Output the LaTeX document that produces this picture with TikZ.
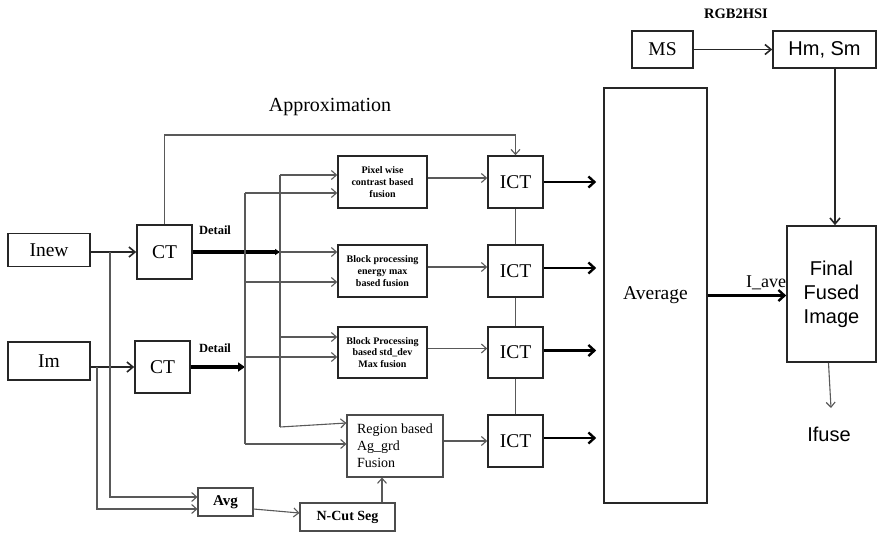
\documentclass[tikz,border=0pt]{standalone}
\usepackage{fontspec}
\setmainfont{Liberation Serif}
\setsansfont{Liberation Sans}
\usetikzlibrary{arrows.meta}
\newcommand\fz[2]{\fontsize{#1}{#2}\selectfont}
\begin{document}
\begin{tikzpicture}[x=1pt,y=-1pt,
  box/.style={draw=black!85, line width=1.6pt, inner sep=0pt, align=center, fill=white},
  lbox/.style={draw=black!70, line width=1.1pt, inner sep=0pt, align=center, fill=white},
  big/.style={font=\fz{19.5}{23}},
  fus/.style={font=\bfseries\fz{10}{11.7}},
  wire/.style={draw=black!65, line width=1.1pt},
  oarr/.style={-{Straight Barb[length=5pt,width=9pt]}},
  tarr/.style={draw=black, line width=2.4pt, -{Straight Barb[length=6pt,width=11pt]}},
  marr/.style={draw=black!85, line width=1.6pt, -{Straight Barb[length=6pt,width=10pt]}},
  det/.style={draw=black, line width=4pt, -{Triangle[length=7pt,width=9pt]}},
]
\useasboundingbox (0,0) rectangle (878,536);

% inputs and CT
\node[box,big,minimum width=82pt,minimum height=33pt] (inew) at (49,250) {Inew};
\node[box,big,minimum width=82pt,minimum height=38pt] (im) at (49,361) {Im};
\node[box,big,minimum width=55pt,minimum height=54pt] (ct1) at (164.5,252) {CT};
\node[box,big,minimum width=55pt,minimum height=52pt] (ct2) at (162.5,367) {CT};

% fusion boxes
\node[box,fus,minimum width=89pt,minimum height=52pt] (pix) at (382.5,182) {Pixel wise\\contrast based\\fusion};
\node[box,fus,minimum width=89pt,minimum height=52pt] (blk) at (382.5,271) {Block processing\\energy max\\based fusion};
\node[box,fus,minimum width=89pt,minimum height=51pt] (std) at (382.5,352.5) {Block Processing\\based std\_dev\\Max fusion};
\node[lbox,font=\fz{14}{17},align=left,minimum width=96pt,minimum height=62pt] (reg) at (395,446) {Region based\\Ag\_grd\\Fusion};
\node[lbox,font=\bfseries\fz{15}{18},minimum width=55pt,minimum height=28pt] (avg) at (225.5,502) {Avg};
\node[lbox,font=\bfseries\fz{14}{17},minimum width=95pt,minimum height=28pt] (ncut) at (347.5,517) {N-Cut Seg};

% ICT boxes
\node[box,big,minimum width=55pt,minimum height=52pt] (ict1) at (515.5,182) {ICT};
\node[box,big,minimum width=55pt,minimum height=52pt] (ict2) at (515.5,271) {ICT};
\node[box,big,minimum width=55pt,minimum height=51pt] (ict3) at (515.5,352.5) {ICT};
\node[box,big,minimum width=55pt,minimum height=52pt] (ict4) at (515.5,441) {ICT};

% right part
\node[box,big,minimum width=103pt,minimum height=415pt] (average) at (655.5,295.5) {Average};
\node[font=\fz{18}{21},anchor=south west,inner sep=0pt] (iave) at (746,290) {I\_ave};
\node[box,font=\sffamily\fz{20}{24},minimum width=89pt,minimum height=136pt] (final) at (831.5,294) {Final\\Fused\\Image};
\node[box,big,minimum width=61pt,minimum height=37pt] (ms) at (662.5,49.5) {MS};
\node[box,font=\sffamily\fz{20}{24},minimum width=103pt,minimum height=37pt] (hm) at (824.5,49.5) {Hm, Sm};
\node[font=\bfseries\fz{14.5}{17}] (rgb) at (736,14) {RGB2HSI};
\node[font=\sffamily\fz{20}{24}] (ifuse) at (829,434) {Ifuse};
\node[font=\fz{20}{24}] (approx) at (330,107) {Approximation};
\node[font=\bfseries\fz{12.5}{15}] (det1) at (215,230) {Detail};
\node[font=\bfseries\fz{12.5}{15}] (det2) at (215,348) {Detail};

% coordinates
\coordinate (j1) at (110,252);
\coordinate (j2) at (97,367);
\coordinate (apx) at (300,135);
\coordinate (a1) at (280,175);
\coordinate (a2) at (280,252);
\coordinate (a3) at (280,337);
\coordinate (a4) at (280,427);
\coordinate (b1) at (245,193);
\coordinate (b2) at (245,282);
\coordinate (b3) at (245,357);
\coordinate (b4) at (245,444);
\coordinate (b0) at (245,367);
\coordinate (ifa) at (831,408);

% input arrows
\draw[marr] (inew.east |- ct1.west) -- (ct1.west);
\draw[marr] (im.east |- ct2.west) -- (ct2.west);
\draw[wire,oarr] (j1) |- ([yshift=5]avg.west);
\draw[wire,oarr] (j2) |- ([yshift=-7]avg.west);

% approximation
\draw[wire,oarr] (ct1.north) |- (apx) -| (ict1.north);

% detail
\draw[det,-{Triangle[length=5pt,width=6pt]}] (ct1.east) -- (a2);
\draw[det] (ct2.east) -- (b0);

% buses
\draw[wire] (a1) -- (a4);
\draw[wire] (b1) -- (b4);
\draw[wire,oarr] (a1) -- (a1 -| pix.west);
\draw[wire,oarr] (b1) -- (b1 -| pix.west);
\draw[wire,oarr] (a2) -- (a2 -| blk.west);
\draw[wire,oarr] (b2) -- (b2 -| blk.west);
\draw[wire,oarr] (a3) -- (a3 -| std.west);
\draw[wire,oarr] (b3) -- (b3 -| std.west);
\draw[wire,oarr] (a4) -- ([yshift=23]reg.west);
\draw[wire,oarr] (b4) -- (b4 -| reg.west);

% avg / ncut
\draw[wire,oarr] ([yshift=-7]avg.east) -- ([yshift=4]ncut.west);
\draw[wire,oarr] ([xshift=34.5]ncut.north) -- ([xshift=-13]reg.south);

% fusion -> ICT
\draw[wire,oarr] ([yshift=4]pix.east) -- ([yshift=4]ict1.west);
\draw[wire,oarr] ([yshift=4]blk.east) -- ([yshift=4]ict2.west);
\draw[wire,oarr] ([yshift=4]std.east) -- ([yshift=4]ict3.west);
\draw[wire,oarr] (ict4.west -| reg.east) -- (ict4.west);

% ICT links
\draw[wire] (ict1.south) -- (ict2.north);
\draw[wire] (ict2.south) -- (ict3.north);
\draw[wire] (ict3.south) -- (ict4.north);

% ICT -> Average
\draw[tarr] (ict1.east) -- ([xshift=-7]ict1.east -| average.west);
\draw[tarr] ([yshift=3]ict2.east) -- ([xshift=-7,yshift=3]ict2.east -| average.west);
\draw[tarr] ([yshift=2]ict3.east) -- ([xshift=-7,yshift=2]ict3.east -| average.west);
\draw[tarr] ([yshift=3]ict4.east) -- ([xshift=-7,yshift=3]ict4.east -| average.west);

% right side
\draw[tarr] (average.east) -- (average.east -| final.west);
\draw[marr] (ms.east) -- (hm.west);
\draw[marr] ([xshift=3.5]final.north |- hm.south) -- ([xshift=3.5]final.north);
\draw[wire,oarr] ([xshift=-3]final.south) -- (ifa);
\end{tikzpicture}
\end{document}
